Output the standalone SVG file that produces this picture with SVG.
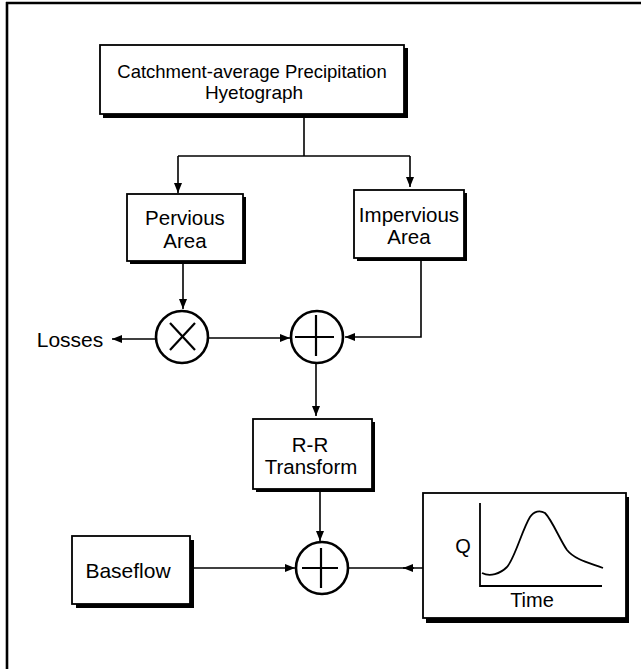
<svg xmlns="http://www.w3.org/2000/svg" width="641" height="669" viewBox="0 0 641 669">
<style>
.box{fill:#fff;stroke:#000;stroke-width:1.8}
.sh{fill:#000}
.t{font-family:"Liberation Sans",Arial,sans-serif;font-size:20px;fill:#000;text-anchor:middle}
.c{fill:none;stroke:#000;stroke-width:1.6}
.op{fill:#fff;stroke:#000;stroke-width:2.6}
.sym{fill:none;stroke:#000;stroke-width:2.2}
</style>
<defs>
<marker id="a" viewBox="0 0 10 8" refX="10" refY="4" markerWidth="10" markerHeight="8" markerUnits="userSpaceOnUse" orient="auto">
<path d="M0,0 L10,4 L0,8 Z" fill="#000"/>
</marker>
</defs>
<rect width="641" height="669" fill="#fff"/>
<g id="frame">
<line x1="7" y1="2" x2="7" y2="669" stroke="#000" stroke-width="2.6"/>
<line x1="6" y1="3" x2="641" y2="3" stroke="#000" stroke-width="2.6"/>
</g>
<g id="connectors">
<line class="c" x1="304" y1="117" x2="304" y2="156"/>
<line class="c" x1="178" y1="156" x2="410" y2="156"/>
<line class="c" x1="178" y1="156" x2="178" y2="193" marker-end="url(#a)"/>
<line class="c" x1="410" y1="156" x2="410" y2="187" marker-end="url(#a)"/>
<line class="c" x1="183" y1="263" x2="183" y2="309" marker-end="url(#a)"/>
<line class="c" x1="156" y1="339" x2="112" y2="339" marker-end="url(#a)"/>
<line class="c" x1="208" y1="338" x2="290" y2="338" marker-end="url(#a)"/>
<polyline class="c" points="421,260 421,337 345,337" marker-end="url(#a)"/>
<line class="c" x1="316" y1="363" x2="316" y2="416" marker-end="url(#a)"/>
<line class="c" x1="320" y1="492" x2="320" y2="541" marker-end="url(#a)"/>
<line class="c" x1="192" y1="568" x2="295" y2="568" marker-end="url(#a)"/>
<line class="c" x1="348" y1="568" x2="423" y2="568"/>
<line class="c" x1="414" y1="568" x2="403" y2="568" marker-end="url(#a)"/>
</g>
<g id="precip">
<rect class="sh" x="103" y="48" width="305" height="70"/>
<rect class="box" x="100" y="45" width="304" height="69"/>
<text class="t" x="252" y="78" style="font-size:18.5px">Catchment-average Precipitation</text>
<text class="t" x="254" y="99" style="font-size:19px">Hyetograph</text>
</g>
<g id="pervious">
<rect class="sh" x="130" y="197" width="116" height="67"/>
<rect class="box" x="127" y="194" width="116" height="67"/>
<text class="t" x="185" y="225" style="font-size:20.5px">Pervious</text>
<text class="t" x="185" y="248" style="font-size:20.5px">Area</text>
</g>
<g id="impervious">
<rect class="sh" x="357" y="193" width="110" height="68"/>
<rect class="box" x="354" y="190" width="110" height="68"/>
<text class="t" x="409" y="222" style="font-size:20.5px">Impervious</text>
<text class="t" x="409" y="244" style="font-size:20.5px">Area</text>
</g>
<g id="losses">
<text class="t" x="70" y="347" style="font-size:21px">Losses</text>
</g>
<g id="multiply">
<circle class="op" cx="182" cy="337" r="26"/>
<line class="sym" x1="170" y1="323" x2="195" y2="350"/>
<line class="sym" x1="195" y1="323" x2="170" y2="350"/>
</g>
<g id="sum1">
<circle class="op" cx="317" cy="337" r="26"/>
<line class="sym" x1="295" y1="337" x2="334" y2="337"/>
<line class="sym" x1="316" y1="315" x2="316" y2="356"/>
</g>
<g id="rr">
<rect class="sh" x="256" y="422" width="119" height="70"/>
<rect class="box" x="253" y="419" width="119" height="70"/>
<text class="t" x="310" y="452" style="font-size:20.5px">R-R</text>
<text class="t" x="311" y="474" style="font-size:20.5px">Transform</text>
</g>
<g id="baseflow">
<rect class="sh" x="76" y="540" width="118" height="68"/>
<rect class="box" x="72" y="536" width="118" height="68"/>
<text class="t" x="128" y="578" style="font-size:21px">Baseflow</text>
</g>
<g id="sum2">
<circle class="op" cx="322" cy="568" r="26"/>
<line class="sym" x1="302" y1="568" x2="338" y2="568"/>
<line class="sym" x1="321" y1="548" x2="321" y2="588"/>
</g>
<g id="output">
<rect class="sh" x="426" y="497" width="203" height="126"/>
<rect class="box" x="423" y="493" width="203" height="125"/>
<text class="t" x="463" y="553" style="font-size:20px">Q</text>
<polyline fill="none" stroke="#000" stroke-width="1.8" points="480,503 480,586 602,586"/>
<path fill="none" stroke="#000" stroke-width="1.8" d="M482,573 C490,577 500,574 507,567 C515,558 522,530 530,517 C534,511 540,510 545,513 C552,520 560,540 567,550 C575,560 590,563 603,568"/>
<text class="t" x="532" y="607" style="font-size:20px">Time</text>
</g>
</svg>
